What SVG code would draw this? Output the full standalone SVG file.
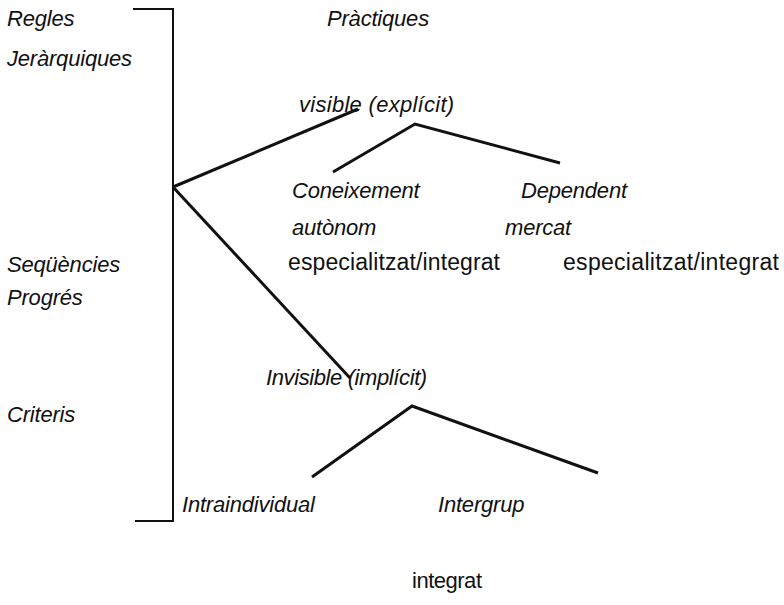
<svg xmlns="http://www.w3.org/2000/svg" width="784" height="605" viewBox="0 0 784 605">
<style>
text{font-family:"Liberation Sans",Arial,sans-serif;font-size:22px;fill:#111}
.i{font-style:italic;letter-spacing:-0.2px}
.r{font-size:23px}
.ln{stroke:#111;stroke-width:3;fill:none;stroke-linecap:butt}
.br{stroke:#111;stroke-width:2;fill:none}
</style>
<rect width="784" height="605" fill="#fff"/>
<g id="left-labels">
<text class="i" x="7" y="26">Regles</text>
<text class="i" x="7" y="66">Jeràrquiques</text>
<text class="i" x="7" y="272">Seqüències</text>
<text class="i" x="7" y="305">Progrés</text>
<text class="i" x="7" y="422">Criteris</text>
</g>
<g id="bracket"><path class="br" d="M133,9 H173 V521 H135"/></g>
<g id="title"><text class="i" x="327" y="26">Pràctiques</text></g>
<g id="visible"><text class="i" x="299" y="112" textLength="155">visible (explícit)</text></g>
<g id="coneixement">
<text class="i" x="292" y="198">Coneixement</text>
<text class="i" x="292" y="235">autònom</text>
<text class="r" x="288" y="270" textLength="212">especialitzat/integrat</text>
</g>
<g id="dependent">
<text class="i" x="521" y="198">Dependent</text>
<text class="i" x="505" y="235">mercat</text>
<text class="r" x="563" y="270" textLength="216">especialitzat/integrat</text>
</g>
<g id="invisible"><text class="i" x="266" y="385" textLength="161">Invisible (implícit)</text></g>
<g id="intraindividual"><text class="i" x="182" y="512">Intraindividual</text></g>
<g id="intergrup"><text class="i" x="438" y="512">Intergrup</text></g>
<g id="integrat"><text x="412" y="588" textLength="70">integrat</text></g>
<g id="connectors">
<line class="ln" x1="173" y1="187" x2="358" y2="109"/>
<line class="ln" x1="173" y1="187" x2="350" y2="378"/>
<polyline class="ln" points="333,172 415,124 560,163"/>
<polyline class="ln" points="312,477 412,406 598,473"/>
</g>
</svg>
